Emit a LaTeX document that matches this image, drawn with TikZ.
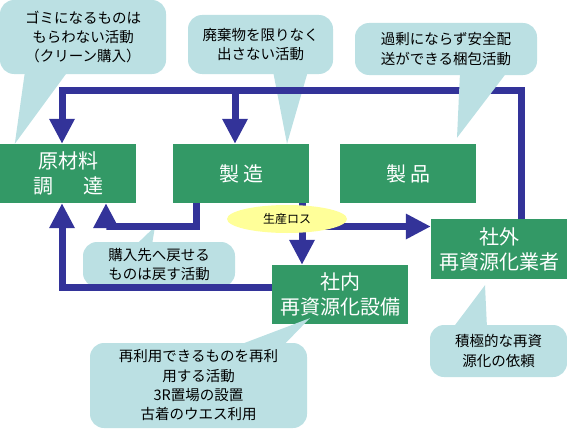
\documentclass[tikz,border=0pt]{standalone}
\usepackage{fontspec}
\setmainfont{Noto Sans CJK JP}
\usetikzlibrary{arrows.meta,shapes.geometric}
\definecolor{azulflujo}{HTML}{333399}
\definecolor{verdecaja}{HTML}{339966}
\definecolor{celeste}{HTML}{BBE0E3}
\definecolor{amarillo}{HTML}{FFFF99}

\begin{document}
\begin{tikzpicture}[x=1pt, y=-1pt,
    caja/.style={fill=verdecaja, text=white, minimum width=136pt,
        minimum height=59pt, inner sep=0pt, align=center,
        font=\fontsize{20}{25}\selectfont},
    flecha/.style={draw=azulflujo, line width=7pt,
        -{Triangle[width=24pt,length=25pt]}},
    globo/.style={fill=celeste, rounded corners=14pt, inner sep=0pt,
        align=center, font=\fontsize{14.5}{19.3}\selectfont},
    punta/.style={fill=celeste}]
    \useasboundingbox (0,0) rectangle (567,428);

    % Cajas del proceso
    \node[caja] (genzai) at (68,173.5) {原材料\\調\hspace{1.5em}達};
    \node[caja] (seizo) at (241,173.5) {製\hspace{4pt}造};
    \node[caja] (seihin) at (408,173.5) {製\hspace{4pt}品};
    \node[caja, minimum height=60pt] (gaibu) at (499,249)
        {社外\\再資源化業者};
    \node[caja] (shanai) at (340,294.5) {社内\\再資源化設備};

    % Globos que quedan bajo las flechas
    \node[globo, minimum width=166pt, minimum height=74pt] (g1) at (83,37)
        {ゴミになるものは\\もらわない活動\\（クリーン購入）};
    \fill[punta] ([xshift=-58pt,yshift=3pt]g1.south)
        -- ([xshift=15pt]genzai.north west)
        -- ([xshift=-15pt,yshift=3pt]g1.south) -- cycle;

    \node[globo, minimum width=145pt, minimum height=59pt] (g2) at (260.5,44.5)
        {廃棄物を限りなく\\出さない活動};
    \fill[punta] ([xshift=12.5pt,yshift=3pt]g2.south)
        -- ([xshift=46pt]seizo.north)
        -- ([xshift=47.5pt,yshift=3pt]g2.south) -- cycle;

    \coordinate (ret) at (106,226.5);
    \node[globo, minimum width=152pt, minimum height=45pt] (g4) at (159,264.5)
        {購入先へ戻せる\\ものは戻す活動};
    \fill[punta] ([xshift=-23pt,yshift=-3pt]g4.north)
        -- ([xshift=49pt]ret)
        -- ([xshift=-7pt,yshift=-3pt]g4.north) -- cycle;

    % Lazo superior: del reciclador externo a materias primas y fabricación
    \coordinate (esq) at (521,90.5);
    \coordinate (izq) at (62,90.5);
    \coordinate (baja) at (235,90.5);
    \draw[flecha] (gaibu.north -| esq) -- (esq) -- (izq)
        -- (genzai.north -| izq);
    \draw[flecha] (baja) -- (seizo.north -| baja);

    % Devolución al proveedor
    \coordinate (ret1) at (196,226.5);
    \draw[flecha] (seizo.south -| ret1) -- (ret1) -- (ret)
        -- (genzai.south -| ret);

    % Retorno desde el reciclaje interno
    \draw[flecha] ([yshift=7pt]shanai.west) -| (genzai.south -| izq);

    % Pérdidas de producción: bifurcación
    \coordinate (rama) at (302,226.5);
    \draw[flecha] (seizo.south -| rama) -- (shanai.north -| rama);
    \draw[flecha] (rama) -- (gaibu.west |- rama);
    \node[ellipse, fill=amarillo, minimum width=120pt, minimum height=28pt,
        inner sep=0pt, font=\fontsize{12}{12}\selectfont] (perdida)
        at (287,219) {生産ロス};

    % Globos sobre las flechas
    \node[globo, minimum width=182pt, minimum height=52pt] (g3) at (446,49)
        {過剰にならず安全配\\送ができる梱包活動};
    \fill[punta] ([xshift=14pt,yshift=3pt]g3.south)
        -- ([xshift=49pt,yshift=6pt]seihin.north)
        -- ([xshift=61pt,yshift=3pt]g3.south) -- cycle;

    \node[globo, minimum width=217pt, minimum height=85pt] (g5) at (198.5,385.5)
        {再利用できるものを再利\\用する活動\\3R置場の設置\\古着のウエス利用};
    \fill[punta] ([xshift=38.5pt,yshift=-3pt]g5.north)
        -- ([xshift=38pt,yshift=6pt]shanai.south west)
        -- ([xshift=84.5pt,yshift=-3pt]g5.north) -- cycle;

    \node[globo, minimum width=137pt, minimum height=52pt] (g6) at (498.5,351)
        {積極的な再資\\源化の依頼};
    \fill[punta] ([xshift=-45.5pt,yshift=-3pt]g6.north)
        -- ([xshift=-14pt,yshift=-6pt]gaibu.south)
        -- ([xshift=-11.5pt,yshift=-3pt]g6.north) -- cycle;
\end{tikzpicture}
\end{document}
